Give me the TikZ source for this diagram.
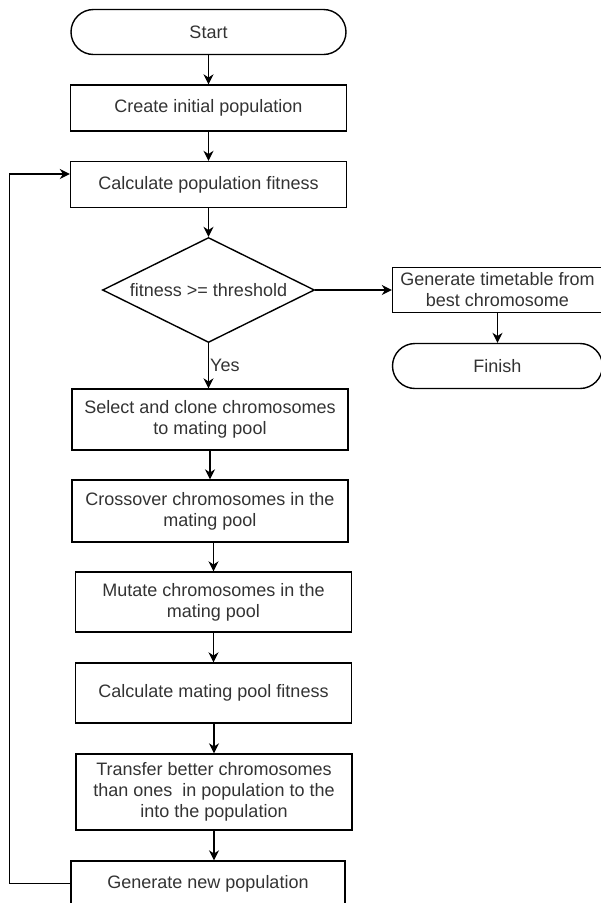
\documentclass[tikz,border=0pt]{standalone}
\usepackage{fontspec}
\setmainfont{Liberation Sans}
\usetikzlibrary{shapes.geometric,arrows.meta}
\begin{document}
\begin{tikzpicture}[
    x=1pt, y=-1pt,
    >={Stealth[length=10pt,width=10pt]},
    every node/.style={draw, line width=1.4pt, align=center, inner sep=0pt, text=black!80, font=\fontsize{18}{21}\selectfont},
    proc/.style={rectangle, minimum width=276pt, minimum height=46pt},
    term/.style={rectangle, rounded corners=22.5pt, minimum width=275pt, minimum height=45pt},
    cond/.style={diamond, aspect=2, minimum width=212pt, minimum height=105pt},
    arrow/.style={->, line width=1.4pt, draw=black}
]
  \useasboundingbox (0,0) rectangle (601,903);
  \clip (0,0) rectangle (601,903);

  \node[term] (start) at (208.5,32) {Start};
  \node[proc, node distance=76pt, below of=start] (init) {Create initial population};
  \node[proc, node distance=76.5pt, below of=init] (calcpop) {Calculate population fitness};
  \node[cond, node distance=105.5pt, below of=calcpop] (check) {fitness >= threshold};
  \node[proc, minimum height=61pt, node distance=129.5pt, below of=check, xshift=1.5pt] (select) {Select and clone chromosomes\\to mating pool};
  \node[proc, minimum height=62pt, node distance=91.5pt, below of=select] (cross) {Crossover chromosomes in the\\mating pool};
  \node[proc, minimum height=60pt, node distance=91pt, below of=cross, xshift=3.5pt] (mutate) {Mutate chromosomes in the\\mating pool};
  \node[proc, minimum height=60pt, node distance=91pt, below of=mutate] (matefit) {Calculate mating pool fitness};
  \node[proc, minimum height=76pt, node distance=99pt, below of=matefit, xshift=0.5pt] (transfer) {Transfer better chromosomes\\than ones~ in population to the\\into the population};
  \node[proc, minimum width=274pt, minimum height=45pt, node distance=91.5pt, below of=transfer, xshift=-6pt] (newpop) {Generate new population};

  \node[proc, minimum width=210pt, minimum height=45pt, node distance=289pt, right of=check] (timetable) {Generate timetable from\\best chromosome};
  \node[term, minimum width=210pt, node distance=76pt, below of=timetable] (finish) {Finish};

  \draw[arrow] (start) -- (init);
  \draw[arrow] (init) -- (calcpop);
  \draw[arrow] (calcpop) -- (check);
  \draw[arrow] (check.south) -- node[right, draw=none, inner sep=1pt] {Yes} (check.south |- select.north);
  \draw[arrow] (select) -- (cross);
  \draw[arrow] (cross.south -| mutate) -- (mutate.north);
  \draw[arrow] (mutate) -- (matefit);
  \draw[arrow] (matefit.south -| transfer) -- (transfer.north);
  \draw[arrow] (transfer.south) -- (transfer.south |- newpop.north);
  \draw[arrow] (check) -- (timetable);
  \draw[arrow] (timetable) -- (finish);

  % loop back
  \coordinate (loopin) at ([yshift=10.5pt]calcpop.west);
  \draw[arrow] (newpop.west) -- ++(-61,0) |- (loopin);
\end{tikzpicture}
\end{document}
